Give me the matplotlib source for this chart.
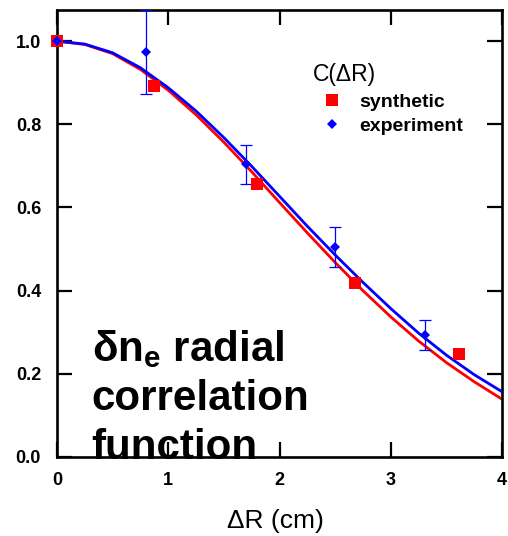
import matplotlib
matplotlib.use("Agg")
import matplotlib.pyplot as plt

plt.rcParams["font.family"] = ["Liberation Sans", "DejaVu Sans"]
plt.rcParams["mathtext.fontset"] = "custom"
plt.rcParams["mathtext.rm"] = "Liberation Sans"
plt.rcParams["mathtext.bf"] = "Liberation Sans:bold"

# smooth fitted curves
curve_x = [0, 0.25, 0.5, 0.75, 1.0, 1.25, 1.5, 1.75, 2.0, 2.25, 2.5, 2.75, 3.0, 3.25, 3.5, 3.75, 4.0]
curve_exp = [1.0, 0.993, 0.972, 0.936, 0.888, 0.832, 0.768, 0.699, 0.627, 0.555, 0.486, 0.420, 0.357, 0.298, 0.245, 0.198, 0.157]
curve_syn = [1.0, 0.992, 0.970, 0.932, 0.882, 0.823, 0.757, 0.686, 0.612, 0.539, 0.468, 0.400, 0.337, 0.279, 0.227, 0.181, 0.139]

# measured points
syn_x = [0.0, 0.87, 1.80, 2.68, 3.61]
syn_y = [1.0, 0.892, 0.657, 0.419, 0.247]

exp_x = [0.0, 0.80, 1.70, 2.50, 3.31]
exp_y = [1.0, 0.974, 0.704, 0.505, 0.293]
exp_err = [0.0, 0.10, 0.047, 0.049, 0.036]

xticks = [0, 1, 2, 3, 4]
yticks = [0.0, 0.2, 0.4, 0.6, 0.8, 1.0]

fig = plt.figure(figsize=(5.08, 5.36), dpi=100)
ax = fig.add_axes([0.1122, 0.1474, 0.876, 0.834])

ax.plot(curve_x, curve_syn, color="#ff0000", lw=2.0, zorder=2)
ax.plot(curve_x, curve_exp, color="#0000ff", lw=2.0, zorder=3)
ax.errorbar(exp_x, exp_y, yerr=exp_err, fmt="none", ecolor="#0000ff",
            elinewidth=0.9, capsize=4, capthick=0.9, zorder=4)
ax.plot(syn_x, syn_y, "s", color="#ff0000", ms=8.8, mew=0, zorder=5,
        label="synthetic", clip_on=False)
ax.plot(exp_x, exp_y, "D", color="#0000ff", ms=5.6, mew=0, zorder=6,
        label="experiment", clip_on=False)

ax.set_xlim(0, 4)
ax.set_ylim(0, 1.075)
ax.set_xticks(xticks)
ax.set_yticks(yticks)
ax.set_xticklabels([str(t) for t in xticks], fontsize=13, fontweight="bold")
ax.set_yticklabels([f"{t:.1f}" for t in yticks], fontsize=13, fontweight="bold")
ax.tick_params(direction="in", length=11, width=1.6, top=True, right=True)
ax.tick_params(axis="x", pad=11)
ax.tick_params(axis="y", pad=11.5)
for s in ax.spines.values():
    s.set_linewidth(1.9)

ax.set_xlabel("\u0394R (cm)", fontsize=19)
ax.xaxis.set_label_coords(0.49, -0.117)

leg = ax.legend(title="C(\u0394R)", loc="upper left", frameon=False,
                bbox_to_anchor=(313 / 508, 1 - 63 / 536), bbox_transform=fig.transFigure,
                borderpad=0, borderaxespad=0, handlelength=2.0, handletextpad=0.39,
                labelspacing=0.36, prop={"size": 14, "weight": "bold"},
                title_fontsize=16.5, alignment="left")

ax.text(0.078, 0.289, "$\\mathbf{\\delta n_e}$ radial\ncorrelation\nfunction",
        transform=ax.transAxes, fontsize=30.3, fontweight="bold",
        va="top", ha="left", linespacing=1.29, zorder=10, clip_on=False)

fig.savefig("out.png", dpi=100)
